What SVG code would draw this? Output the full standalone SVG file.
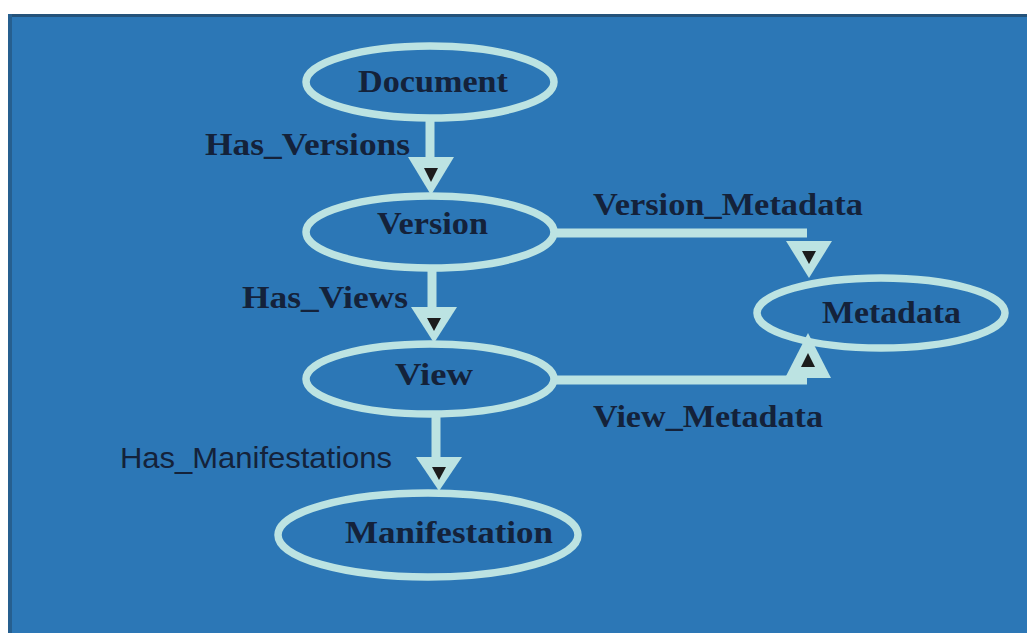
<svg xmlns="http://www.w3.org/2000/svg" width="1027" height="633" viewBox="0 0 1027 633">
<style>
.node{fill:none;stroke:#bce3e2;stroke-width:7.5}
.edge{stroke:#bce3e2;stroke-width:9;fill:none}
.head{fill:#bce3e2}
.inner{fill:#1c1c1c}
.lbl{font-family:"Liberation Serif",serif;font-weight:bold;fill:#14223a;font-size:31px}
.sans{font-family:"Liberation Sans",sans-serif;font-weight:normal;fill:#14223a;font-size:29px}
</style>
<rect x="0" y="0" width="1027" height="633" fill="#ffffff"/>
<rect x="8" y="14" width="1019" height="619" fill="#2c77b6"/>
<rect x="8" y="14" width="1019" height="3" fill="#24527a"/>
<rect x="8" y="14" width="4" height="619" fill="#265f8f"/>
<g id="connectors">
<line class="edge" x1="430" y1="120" x2="430" y2="160"/>
<polygon class="head" points="408,157 454,157 431,195"/>
<polygon class="inner" points="424,168 438,168 431,182"/>
<line class="edge" x1="432" y1="270" x2="432" y2="310"/>
<polygon class="head" points="411,307 457,307 434,343"/>
<polygon class="inner" points="427,318 441,318 434,331"/>
<line class="edge" x1="436" y1="416" x2="436" y2="460"/>
<polygon class="head" points="416,457 462,457 439,491"/>
<polygon class="inner" points="432,467 446,467 439,480"/>
<polyline class="edge" points="555,233 807,233"/>
<polygon class="head" points="786,241 832,241 809,278"/>
<polygon class="inner" points="802,251 816,251 809,264"/>
<polyline class="edge" points="555,380 807,380"/>
<polygon class="head" points="785,378 831,378 808,333"/>
<polygon class="inner" points="801,367 815,367 808,353"/>
<text class="lbl" x="205" y="155" textLength="205" lengthAdjust="spacingAndGlyphs">Has_Versions</text>
<text class="lbl" x="242" y="308" textLength="166" lengthAdjust="spacingAndGlyphs">Has_Views</text>
<text class="sans" x="120" y="468" textLength="272" lengthAdjust="spacingAndGlyphs">Has_Manifestations</text>
<text class="lbl" x="593" y="215" textLength="270" lengthAdjust="spacingAndGlyphs">Version_Metadata</text>
<text class="lbl" x="593" y="427" textLength="230" lengthAdjust="spacingAndGlyphs">View_Metadata</text>
</g>
<g id="node-document">
<ellipse class="node" cx="430" cy="82" rx="124" ry="36"/>
<text class="lbl" x="358" y="92" textLength="150" lengthAdjust="spacingAndGlyphs">Document</text>
</g>
<g id="node-version">
<ellipse class="node" cx="430" cy="232" rx="124" ry="36"/>
<text class="lbl" x="377" y="234" textLength="111" lengthAdjust="spacingAndGlyphs">Version</text>
</g>
<g id="node-view">
<ellipse class="node" cx="430" cy="379" rx="124" ry="35"/>
<text class="lbl" x="395" y="385" textLength="78" lengthAdjust="spacingAndGlyphs">View</text>
</g>
<g id="node-manifestation">
<ellipse class="node" cx="428" cy="535" rx="150" ry="42"/>
<text class="lbl" x="345" y="543" textLength="208" lengthAdjust="spacingAndGlyphs">Manifestation</text>
</g>
<g id="node-metadata">
<ellipse class="node" cx="881" cy="313" rx="124" ry="35"/>
<text class="lbl" x="822" y="323" textLength="139" lengthAdjust="spacingAndGlyphs">Metadata</text>
</g>
</svg>
